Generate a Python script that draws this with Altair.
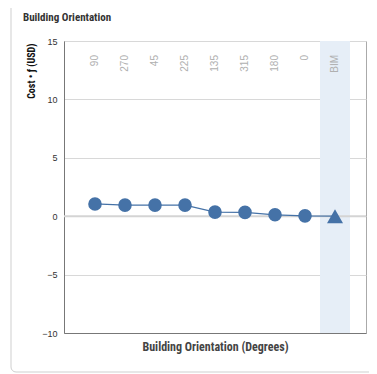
import altair as alt
import pandas as pd

categories = ["90", "270", "45", "225", "135", "315", "180", "0", "BIM"]
costs = [1.05, 0.95, 0.95, 0.95, 0.35, 0.33, 0.12, 0.03, 0.0]
shapes = ["circle"] * 8 + ["triangle-up"]
highlight = ["BIM"]
y_ticks = [-10, -5, 0, 5, 10, 15]

df = pd.DataFrame({"cat": categories, "cost": costs, "shape": shapes})
hl = pd.DataFrame({"cat": highlight})
one = pd.DataFrame({"k": [0]})

W, H = 302, 292
BLUE = "#4572A7"
COND = "Roboto Condensed, Liberation Sans Narrow, DejaVu Sans Condensed, Lato, sans-serif"

xscale = alt.Scale(type="band", domain=categories, paddingInner=0, paddingOuter=0.533)
yscale = alt.Scale(domain=[-10, 15], nice=False, zero=False)

xenc = alt.X("cat:N", scale=xscale, sort=categories,
             axis=alt.Axis(labels=False, ticks=False, domain=True, domainColor="#777",
                           grid=False, title="Building Orientation (Degrees)",
                           titleFont=COND, titleFontSize=12, titleFontWeight="bold",
                           titleColor="#444", titlePadding=8))

frame = alt.Chart(one).mark_rect(fill=None, fillOpacity=0, stroke="#cfcfcf", strokeWidth=1,
                                 cornerRadius=5).encode(
    x=alt.value(-53), x2=alt.value(340), y=alt.value(-60), y2=alt.value(331))

band = alt.Chart(hl).mark_rect(color="#e6eef7").encode(
    x=xenc, y=alt.value(0), y2=alt.value(H))

base = alt.Chart(df)

yaxis = alt.Axis(values=y_ticks, grid=True, gridColor="#d8d8d8", ticks=False,
                 domain=True, domainColor="#777", labelFontSize=9, labelColor="#333",
                 labelFont="Liberation Sans, Arial, sans-serif", labelPadding=7,
                 title="Cost \u2022 \u0192 (USD)", titleFont=COND, titleFontSize=10,
                 titleFontWeight="bold", titleColor="#111", titleAngle=270,
                 titleAlign="right", titleBaseline="middle", titleX=-33, titleY=2)

zero = alt.Chart(one).mark_rule(color="#d4d4d4", strokeWidth=2).encode(
    y=alt.datum(0, scale=yscale))

line = base.mark_line(color=BLUE, strokeWidth=1.2).encode(
    x=xenc, y=alt.Y("cost:Q", scale=yscale, axis=yaxis))

pts = base.mark_point(filled=True, opacity=1, color=BLUE).encode(
    x=xenc, y=alt.Y("cost:Q", scale=yscale),
    shape=alt.Shape("shape:N", scale=None),
    size=alt.condition(alt.datum.shape == "circle", alt.value(185), alt.value(256)))

labels = base.mark_text(angle=270, align="right", baseline="middle", fontSize=10,
                        color="#b0b0b0", font="Liberation Sans, Arial, sans-serif").encode(
    x=xenc, y=alt.value(14), text="cat:N")

title = alt.Chart(one).mark_text(text="Building Orientation", align="left", baseline="middle",
                                 font=COND, fontSize=11, fontWeight="bold", color="#333").encode(
    x=alt.value(-41), y=alt.value(-23))

chart = alt.layer(frame, band, zero, line, pts, labels, title).properties(
    width=W, height=H,
    autosize=alt.AutoSizeParams(type="none"),
    padding={"left": 56, "top": 33, "right": 3, "bottom": 40},
).configure_view(stroke="#aaa", strokeWidth=1)

chart.save("out.html", embed_options={"renderer": "svg", "actions": False})
